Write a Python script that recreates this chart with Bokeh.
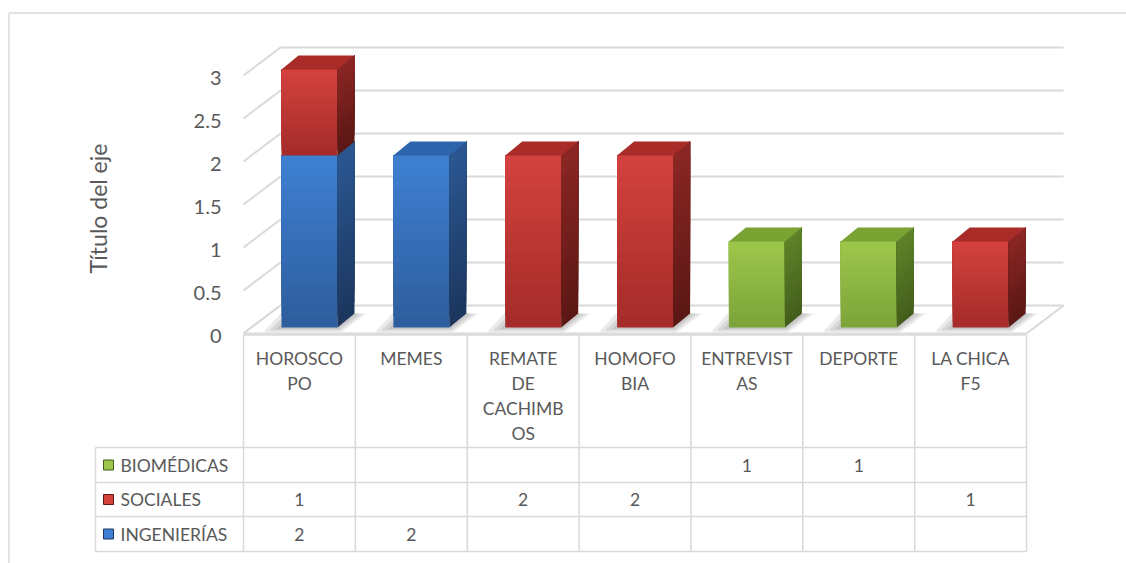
import math
from bokeh.plotting import figure
from bokeh.models import Range1d
from bokeh.core.properties import value
from bokeh.embed import file_html
from bokeh.resources import INLINE

# ---------------- data ----------------
categories = ["HOROSCOPO", "MEMES", "REMATE DE CACHIMBOS", "HOMOFOBIA",
              "ENTREVISTAS", "DEPORTE", "LA CHICA F5"]
category_lines = [["HOROSCO", "PO"], ["MEMES"], ["REMATE", "DE", "CACHIMB", "OS"],
                  ["HOMOFO", "BIA"], ["ENTREVIST", "AS"], ["DEPORTE"], ["LA CHICA", "F5"]]
series_names = ["INGENIERÍAS", "SOCIALES", "BIOMÉDICAS"]   # stacking order, bottom -> top
ingenierias = [2, 2, None, None, None, None, None]
sociales = [1, None, 2, 2, None, None, 1]
biomedicas = [None, None, None, None, 1, 1, None]
y_ticks = [0, 0.5, 1, 1.5, 2, 2.5, 3]
axis_title = "Título del eje"
table_rows = ["BIOMÉDICAS", "SOCIALES", "INGENIERÍAS"]      # table order, top -> bottom

series_values = {"INGENIERÍAS": ingenierias, "SOCIALES": sociales, "BIOMÉDICAS": biomedicas}

# ---------------- styles ----------------
palette = {
    "INGENIERÍAS": dict(ft="#3F80D2", fb="#2D5D9C", st="#2B5792", sb="#1C365C", top="#2D65AC"),
    "SOCIALES":    dict(ft="#D4423E", fb="#A32B29", st="#8C2724", sb="#5A1714", top="#A92C29"),
    "BIOMÉDICAS":  dict(ft="#9DC74C", fb="#7CA339", st="#5F8329", sb="#425D1B", top="#7AA334"),
}
GRID = "#D9D9D9"
TXT = "#595959"
FONT = "Lato"

W, H = 1126, 563
PAGE = 0
X0PX, CATPX = 243.0, 111.86     # page x of category 0 left edge, width of a category
Y0PX, UNITPX = 333.0, 86.0      # page y of value 0 (front plane), px per unit


def ux(px):
    return (px - X0PX) / CATPX


def vy(py):
    return (Y0PX - py) / UNITPX


def dxu(px):
    return px / CATPX


def dyv(px):
    return px / UNITPX


WDX, WDY = dxu(37), dyv(28)     # wall depth
FDX, FDY = dxu(8), dyv(6)       # bar front depth
SDX, SDY = dxu(17), dyv(14)     # bar own depth
BL, BW = dxu(30), dxu(56)       # bar offset / width in category


def hex2rgb(h):
    h = h.lstrip("#")
    return tuple(int(h[i:i + 2], 16) for i in (0, 2, 4))


def lerp(c1, c2, t):
    a, b = hex2rgb(c1), hex2rgb(c2)
    return "#%02x%02x%02x" % tuple(int(round(a[i] + (b[i] - a[i]) * t)) for i in range(3))


p = figure(width=W, height=H, output_backend="svg", toolbar_location=None,
           x_range=Range1d(ux(PAGE), ux(PAGE + W)), y_range=Range1d(vy(PAGE + H), vy(PAGE)),
           x_axis_type=None, y_axis_type=None, min_border=0,
           outline_line_color=None, background_fill_color="white", border_fill_color="white")
p.xgrid.visible = False
p.ygrid.visible = False

ncat = len(categories)

# outer chart border (left / top visible)
p.segment(x0=[ux(8.5), ux(8.5)], y0=[vy(12.5), vy(12.5)], x1=[ux(8.5), ux(PAGE + W)],
          y1=[vy(PAGE + H), vy(12.5)], line_color=GRID, line_width=1.5)

# back wall gridlines
p.segment(x0=[WDX] * (len(y_ticks) - 1), y0=[t + WDY for t in y_ticks[1:]],
          x1=[ncat + WDX] * (len(y_ticks) - 1), y1=[t + WDY for t in y_ticks[1:]],
          line_color=GRID, line_width=2)
# side wall diagonals
p.segment(x0=[0] * len(y_ticks), y0=y_ticks, x1=[WDX] * len(y_ticks),
          y1=[t + WDY for t in y_ticks], line_color=GRID, line_width=2)
# floor
p.patch([0, ncat, ncat + WDX, WDX], [0, 0, WDY, WDY], fill_color="white",
        line_color=GRID, line_width=2)

# shadows
sh_xs, sh_ys = [], []
for i in range(ncat):
    xl = i + BL + FDX
    xr = xl + BW
    for k in (3, 2, 1):
        l, r, f = dxu(6 * k), dxu(4 * k), dyv(1.5 * k)
        sh_xs.append([xl - l, xr + r * 0.3, xr + SDX + r, xl + SDX - l])
        sh_ys.append([FDY - f, FDY - f, FDY + SDY, FDY + SDY])
p.patches(sh_xs, sh_ys, fill_color="#606060", fill_alpha=0.13, line_color=None)

# bars (front + side faces drawn as overlapping gradient strips, bottom -> top)
NS = 16
for i in range(ncat):
    xl = i + BL + FDX
    xr = xl + BW
    base = 0.0
    segs = []
    for s in series_names:
        v = series_values[s][i]
        if v:
            segs.append((s, base, base + v))
            base += v
    for j, (s, v0, v1) in enumerate(segs):
        c = palette[s]
        y0, y1 = v0 + FDY, v1 + FDY
        step = (y1 - y0) / NS
        fx, fy, fc, sx, sy, sc = [], [], [], [], [], []
        for k in range(NS):
            a = y0 + step * k
            b = y1
            t = 1 - (k + 0.5) / NS
            fx.append([xl, xr, xr, xl])
            fy.append([a, a, b, b])
            fc.append(lerp(c["ft"], c["fb"], t))
            sx.append([xr, xr + SDX, xr + SDX, xr])
            sy.append([a, a + SDY, b + SDY, b])
            sc.append(lerp(c["st"], c["sb"], t))
        p.patches(fx, fy, fill_color=fc, line_color=None)
        p.patches(sx, sy, fill_color=sc, line_color=None)
        if j == len(segs) - 1:
            p.patch([xl, xr, xr + SDX, xl + SDX], [y1, y1, y1 + SDY, y1 + SDY],
                    fill_color=c["top"], line_color=None)

# y tick labels and axis title
p.text(x=[ux(221)] * len(y_ticks), y=[t - dyv(2) for t in y_ticks],
       text=[("%g" % t) for t in y_ticks], text_align="right", text_baseline="middle",
       text_font=value(FONT), text_font_size="20px", text_color=TXT)
p.text(x=[ux(97)], y=[vy(208)], text=[axis_title], angle=math.pi / 2,
       text_align="center", text_baseline="middle", text_font=value(FONT),
       text_font_size="23px", text_color=TXT)

# data table
row_edges_px = [447, 482, 516, 551]
head_top_px = 334.5
lx0, ly0, lx1, ly1 = [], [], [], []
lx0.append(0); ly0.append(vy(head_top_px)); lx1.append(ncat); ly1.append(vy(head_top_px))
for r in row_edges_px:
    lx0.append(ux(95)); ly0.append(vy(r)); lx1.append(ncat); ly1.append(vy(r))
for k in range(ncat + 1):
    lx0.append(k); ly0.append(vy(head_top_px)); lx1.append(k); ly1.append(vy(row_edges_px[-1]))
lx0.append(ux(95)); ly0.append(vy(row_edges_px[0])); lx1.append(ux(95)); ly1.append(vy(row_edges_px[-1]))
p.segment(x0=lx0, y0=ly0, x1=lx1, y1=ly1, line_color=GRID, line_width=1.5)

# category header text
cx, cy, ct = [], [], []
for i, lines in enumerate(category_lines):
    for j, ln in enumerate(lines):
        cx.append(i + 0.5)
        cy.append(vy(357.5 + 25.3 * j))
        ct.append(ln)
p.text(x=cx, y=cy, text=ct, text_align="center", text_baseline="middle",
       text_font=value(FONT), text_font_size="17.5px", text_color=TXT)

# row headers with legend keys, and values
rx, ry, rt, kc, kl = [], [], [], [], []
vx, vyy, vt = [], [], []
for r, s in enumerate(table_rows):
    yc = vy((row_edges_px[r] + row_edges_px[r + 1]) / 2)
    rx.append(ux(120)); ry.append(yc); rt.append(s)
    kc.append(palette[s]["ft"]); kl.append(palette[s]["sb"])
    for i, v in enumerate(series_values[s]):
        if v is not None:
            vx.append(i + 0.5); vyy.append(yc); vt.append("%g" % v)
p.rect(x=[ux(108)] * len(ry), y=ry, width=10, height=10, width_units="screen",
       height_units="screen", fill_color=kc, line_color=kl, line_width=1)
p.text(x=rx, y=ry, text=rt, text_align="left", text_baseline="middle",
       text_font=value(FONT), text_font_size="17.5px", text_color=TXT)
p.text(x=vx, y=vyy, text=vt, text_align="center", text_baseline="middle",
       text_font=value(FONT), text_font_size="17.5px", text_color=TXT)

open("out.html", "w").write(file_html(p, INLINE))
